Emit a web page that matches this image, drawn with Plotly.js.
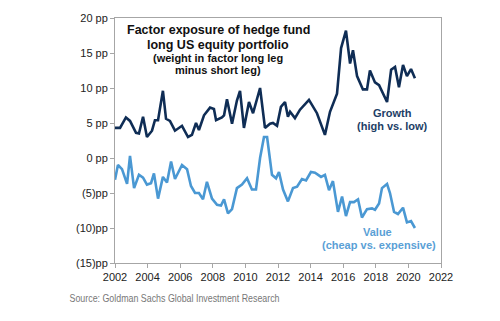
<!DOCTYPE html>
<html>
<head>
<meta charset="utf-8">
<script src="https://cdn.plot.ly/plotly-3.0.1.min.js"></script>
<style>html,body{margin:0;padding:0;background:#fff;}#chart{width:500px;height:321px;}</style>
</head>
<body>
<div id="chart"></div>
<script>
// Growth factor exposure (high vs. low), pp
const growthX = [2002.0,2002.31,2002.67,2002.92,2003.29,2003.47,2003.72,2003.96,2004.27,2004.45,2004.64,2004.94,2005.13,2005.37,2005.68,2006.11,2006.48,2006.72,2006.97,2007.15,2007.46,2007.83,2008.07,2008.20,2008.56,2008.69,2008.87,2009.18,2009.48,2009.67,2009.91,2010.22,2010.47,2010.90,2011.20,2011.51,2011.69,2011.94,2012.18,2012.43,2012.61,2012.74,2013.04,2013.35,2013.90,2014.39,2014.88,2015.19,2015.62,2015.87,2016.17,2016.42,2016.60,2016.85,2017.21,2017.46,2017.64,2017.95,2018.20,2018.69,2018.94,2019.18,2019.42,2019.67,2019.91,2020.16,2020.40];
const growthY = [4.3,4.3,5.8,5.3,3.6,3.5,5.9,3.0,3.9,5.4,5.4,9.6,5.6,5.3,3.9,4.6,3.0,3.3,5.0,4.0,6.1,7.2,7.0,5.4,5.8,6.1,8.4,4.9,8.2,9.6,4.3,8.0,6.4,10.0,4.3,4.9,5.0,4.6,7.3,8.0,5.9,6.6,5.7,6.9,8.3,6.4,3.3,6.6,9.2,15.7,18.2,13.5,15.4,11.7,9.8,9.8,12.5,10.8,10.4,8.0,12.6,13.0,10.1,13.3,11.7,12.7,11.4];
// Value factor exposure (cheap vs. expensive), pp
const valueX = [2002.0,2002.18,2002.43,2002.74,2002.92,2003.17,2003.47,2003.72,2003.96,2004.21,2004.39,2004.64,2004.94,2005.19,2005.44,2005.68,2006.11,2006.42,2006.66,2006.91,2007.15,2007.40,2007.64,2007.95,2008.26,2008.50,2008.69,2008.93,2009.18,2009.48,2009.79,2010.10,2010.40,2010.65,2010.90,2011.14,2011.33,2011.63,2011.88,2012.06,2012.31,2012.61,2012.92,2013.17,2013.47,2013.72,2014.02,2014.27,2014.64,2014.88,2015.13,2015.37,2015.68,2015.93,2016.17,2016.42,2016.66,2016.91,2017.15,2017.46,2017.77,2017.95,2018.20,2018.38,2018.69,2018.87,2019.12,2019.36,2019.67,2019.91,2020.16,2020.40];
const valueY = [-3.1,-1.0,-1.6,-3.7,0.3,-4.3,-2.4,-2.8,-3.8,-3.6,-2.2,-5.8,-2.7,-3.5,-0.5,-3.0,-1.0,-1.6,-4.0,-5.0,-5.0,-5.9,-3.4,-5.8,-6.7,-6.8,-5.9,-7.9,-7.3,-4.3,-3.8,-2.9,-4.5,-4.5,0.0,3.0,3.0,-2.4,-2.9,-2.0,-4.5,-6.2,-4.3,-4.1,-3.0,-3.2,-2.0,-2.1,-2.7,-2.4,-4.6,-3.3,-7.7,-5.5,-8.3,-6.3,-6.3,-5.9,-8.5,-7.3,-7.2,-7.4,-6.5,-4.3,-3.7,-5.0,-7.7,-8.0,-7.1,-9.2,-9.0,-10.0];
// Axis ticks
const xTicks = [2002,2004,2006,2008,2010,2012,2014,2016,2018,2020,2022];
const yTickVals = [20,15,10,5,0,-5,-10,-15];
const yTickText = ['20 pp','15 pp','10 pp','5 pp','0 pp','(5)pp','(10)pp','(15)pp'];

const navy = '#0f2d55';
const light = '#4a98d3';
const axisGray = '#a6a6a6';
const font = 'Liberation Sans, Arial, sans-serif';

const traces = [
  {x: growthX, y: growthY, type: 'scatter', mode: 'lines', line: {color: navy, width: 2.6}, hoverinfo: 'skip'},
  {x: valueX, y: valueY, type: 'scatter', mode: 'lines', line: {color: light, width: 2.6}, hoverinfo: 'skip'}
];

function ann(text, x, y, size, color, extra) {
  return Object.assign({xref: 'paper', yref: 'paper', x: x, y: y, xanchor: 'center', yanchor: 'middle',
    showarrow: false, text: text, font: {family: font, size: size, color: color}}, extra || {});
}

const layout = {
  width: 500, height: 321,
  margin: {l: 115, r: 59, t: 18, b: 58},
  paper_bgcolor: '#fff', plot_bgcolor: '#fff',
  showlegend: false,
  font: {family: font, size: 11, color: '#222'},
  xaxis: {
    range: [2002, 2022], tickvals: xTicks, ticktext: xTicks.map(String),
    showgrid: false, zeroline: false, showline: true, linecolor: axisGray, linewidth: 1,
    mirror: true, ticks: 'outside', ticklen: 4, tickcolor: axisGray,
    tickfont: {family: font, size: 11, color: '#222'}
  },
  xaxis2: {
    range: [2002, 2022], tickvals: xTicks, overlaying: 'x', anchor: 'free',
    position: 15/35, side: 'bottom', showticklabels: false, showgrid: false, zeroline: false,
    showline: true, linecolor: axisGray, linewidth: 1, ticks: 'outside', ticklen: 3, tickcolor: axisGray
  },
  yaxis: {
    range: [-15, 20], tickvals: yTickVals, ticktext: yTickText,
    showgrid: false, zeroline: false, showline: true, linecolor: axisGray, linewidth: 1,
    mirror: true, ticks: 'outside', ticklen: 4, tickcolor: axisGray,
    tickfont: {family: font, size: 11, color: '#222'}
  },
  annotations: [
    ann('<b>Factor exposure of hedge fund</b>', 0.316, 0.951, 12.5, '#111'),
    ann('<b>long US equity portfolio</b>', 0.316, 0.890, 12.5, '#111'),
    ann('<b>(weight in factor long leg</b>', 0.316, 0.837, 11, '#111'),
    ann('<b>minus short leg)</b>', 0.316, 0.788, 11, '#111'),
    ann('<b>Growth</b>', 0.85, 0.612, 11, '#1d3e66'),
    ann('<b>(high vs. low)</b>', 0.85, 0.559, 11, '#1d3e66'),
    ann('<b>Value</b>', 0.806, 0.127, 11, '#5a9fd6'),
    ann('<b>(cheap vs. expensive)</b>', 0.81, 0.073, 11, '#5a9fd6'),
    ann('Source: Goldman Sachs Global Investment Research', 0.184, -0.143, 11, '#777')
  ]
};

Plotly.newPlot('chart', traces, layout, {staticPlot: true, displayModeBar: false}).then(function () {
  document.querySelectorAll('.annotation-text').forEach(function (t) {
    if (t.textContent.indexOf('Source:') === 0) {
      t.setAttribute('textLength', '210');
      t.setAttribute('lengthAdjust', 'spacingAndGlyphs');
    }
  });
});
</script>
</body>
</html>
